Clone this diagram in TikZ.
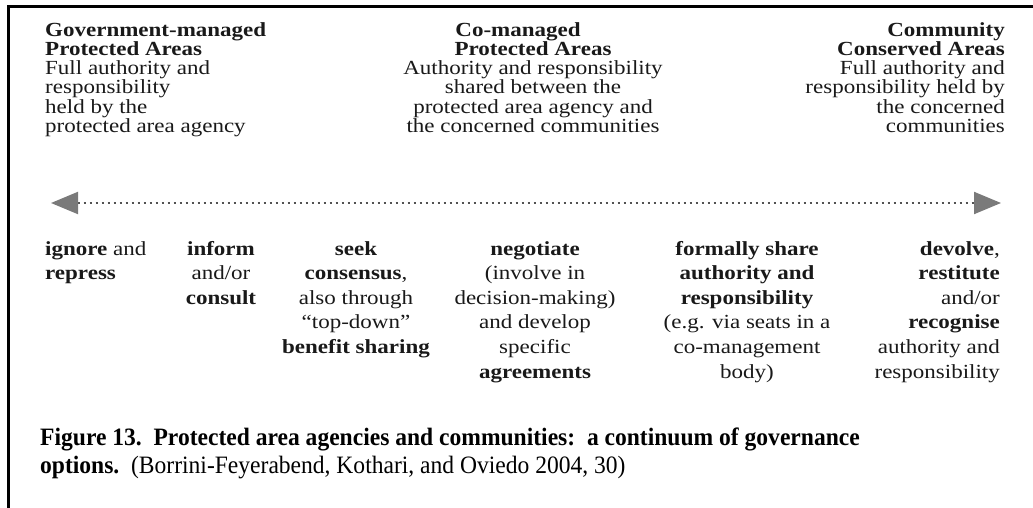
\documentclass[tikz,border=0pt]{standalone}
\usepackage{fontspec}
\setmainfont{Liberation Serif}[FakeStretch=1.15]
\newfontfamily\capfont{Liberation Serif}[FakeStretch=0.942]
\usetikzlibrary{arrows.meta}
\begin{document}
\begin{tikzpicture}[x=1pt,y=-1pt,
  toptxt/.style={inner sep=0pt, text=black!90, font=\fontsize{20}{19.3}\selectfont},
  bottxt/.style={inner sep=0pt, text=black!90, font=\fontsize{20}{24.6}\selectfont},
  captxt/.style={inner sep=0pt, anchor=base west, align=left, font=\capfont\fontsize{25}{28}\selectfont},
  frameline/.style={line width=3pt, line cap=rect},
  tipstyle/.tip={Triangle[length=27pt, width=22pt, color=black!52]},
  dotline/.style={draw=black!68, line width=2pt, dash pattern=on 2pt off 4pt, {tipstyle}-{tipstyle}}]
\useasboundingbox (0,0) rectangle (1033,508);
% frame
\coordinate (fb) at (8.5,508);
\coordinate (fc) at (8.5,6.5);
\coordinate (fr) at (1033,6.5);
\draw[frameline] (fb) -- (fc) -- (fr);
% top texts (base = baseline of last line; first baseline at 36)
\node[toptxt, anchor=base west, align=left] (gov) at (45,132.5)
 {\textbf{Government-managed}\\\textbf{Protected Areas}\\Full authority and\\responsibility\\held by the\\protected area agency};
\node[toptxt, anchor=base, align=center] (com) at (533,132.5)
 {\textbf{Co-managed}\hspace*{30pt}\\\textbf{Protected Areas}\hspace*{30pt}\\Authority and responsibility\\shared between the\\protected area agency and\\the concerned communities};
\node[toptxt, anchor=base east, align=right] (cca) at (1005,132.5)
 {\textbf{Community}\\\textbf{Conserved Areas}\\Full authority and\\responsibility held by\\the concerned\\communities};
% arrow
\coordinate (aL) at (51,203);
\coordinate (aR) at (1001,203);
\draw[dotline] (aL) -- (aR);
% bottom texts (first baseline at 255, leading 24.6)
\node[bottxt, anchor=base west, align=left] (b1) at (45,279.6)
 {\textbf{ignore} and\\\textbf{repress}};
\node[bottxt, anchor=base, align=center] (b2) at (221,304.2)
 {\textbf{inform}\\and/or\\\textbf{consult}};
\node[bottxt, anchor=base, align=center] (b3) at (356,353.4)
 {\textbf{seek}\\\textbf{consensus},\\also through\\``top-down''\\\textbf{benefit sharing}};
\node[bottxt, anchor=base, align=center] (b4) at (535,378)
 {\textbf{negotiate}\\(involve in\\decision-making)\\and develop\\specific\\\textbf{agreements}};
\node[bottxt, anchor=base, align=center] (b5) at (747,378)
 {\textbf{formally share}\\\textbf{authority and}\\\textbf{responsibility}\\(e.g. via seats in a\\co-management\\body)};
\node[bottxt, anchor=base east, align=right] (b6) at (1000,378)
 {\textbf{devolve},\\\textbf{restitute}\\and/or\\\textbf{recognise}\\authority and\\responsibility};
% caption
\node[captxt] (cap) at (40,473)
 {\textbf{Figure 13.\ \ Protected area agencies and communities:\ \ a continuum of governance}\\\textbf{options.}\ \ (Borrini-Feyerabend, Kothari, and Oviedo 2004, 30)};
\end{tikzpicture}
\end{document}
